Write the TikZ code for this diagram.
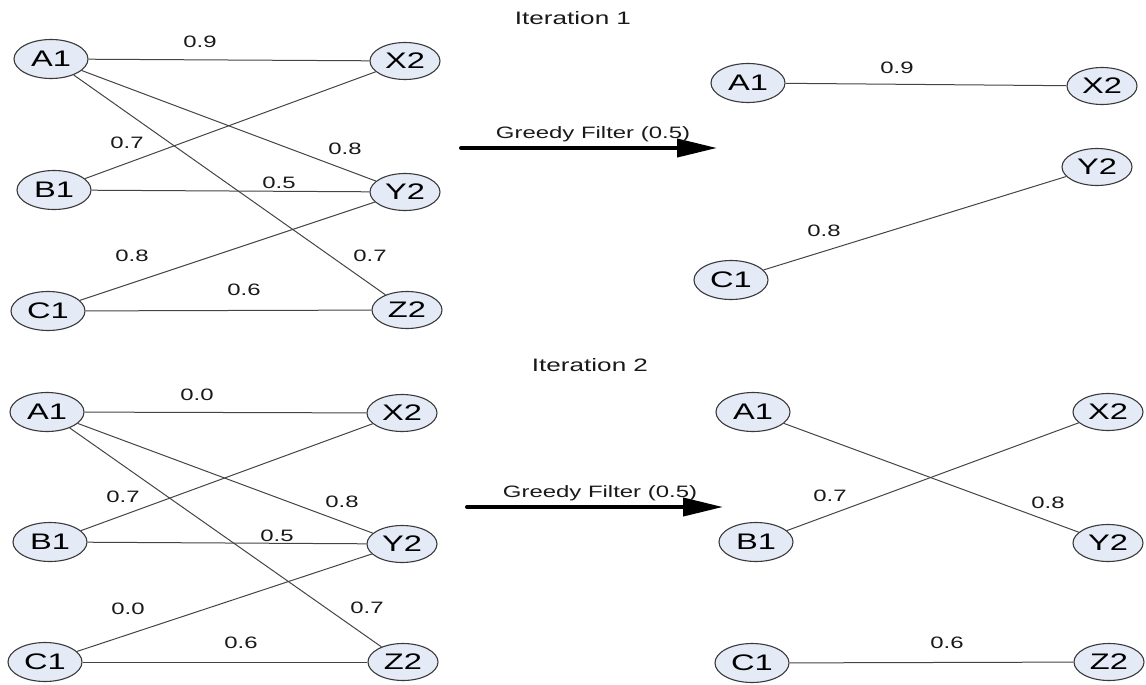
\documentclass[tikz,border=0pt]{standalone}
\usepackage{fontspec}
\setmainfont{Liberation Sans}[FakeStretch=1.45]
\usetikzlibrary{shapes.geometric,arrows.meta}

\definecolor{vfill}{HTML}{E4EAF6}
\definecolor{vline}{HTML}{3A3A3A}
\definecolor{eline}{HTML}{444444}

\tikzstyle{vert} = [ellipse, draw=vline, fill=vfill, line width=1.1pt, inner sep=0pt,
  minimum width=74pt, minimum height=39pt, text=black, font=\fontsize{22.5}{26}\selectfont]
\tikzstyle{vertr} = [vert, minimum width=70pt, minimum height=37pt]
\tikzstyle{lbl} = [text centered, inner sep=0pt, text=black!90, font=\fontsize{16.5}{19}\selectfont]
\tikzstyle{ttl} = [text centered, inner sep=0pt, text=black!90, font=\fontsize{18}{21}\selectfont]
\tikzstyle{edge} = [draw=eline, line width=1pt]
\tikzstyle{filt} = [line width=4pt, line cap=round, -{Triangle[length=40pt,width=18pt]}]

\begin{document}
\begin{tikzpicture}[x=1pt, y=-1pt]
\useasboundingbox (0,0) rectangle (1146,685);

%ITERATION1 input graph
\node[vert]  (a1) at (51,59)   {A1};
\node[vert]  (b1) at (54,190)  {B1};
\node[vert]  (c1) at (48,311)  {C1};
\node[vertr] (x2) at (405,61)  {X2};
\node[vertr] (y2) at (405,192) {Y2};
\node[vertr] (z2) at (407,310) {Z2};
\draw[edge] (a1) -- (x2);
\draw[edge] (a1) -- (y2);
\draw[edge] (a1) -- (z2);
\draw[edge] (b1) -- (x2);
\draw[edge] (b1) -- (y2);
\draw[edge] (c1) -- (y2);
\draw[edge] (c1) -- (z2);
\node[lbl] (w1ax) at (200,42)  {0.9};
\node[lbl] (w1bx) at (127,143) {0.7};
\node[lbl] (w1ay) at (345,149) {0.8};
\node[lbl] (w1by) at (279,183) {0.5};
\node[lbl] (w1cy) at (132,256) {0.8};
\node[lbl] (w1az) at (370,256) {0.7};
\node[lbl] (w1cz) at (244,290) {0.6};

%ITERATION1 filter
\node[ttl] (it1) at (573,18) {Iteration 1};
\coordinate (f1A) at (461,148);
\coordinate (f1B) at (717,148);
\draw[filt] (f1A) -- node[lbl, above=4pt, xshift=4pt] (f1) {Greedy Filter (0.5)} (f1B);

%ITERATION1 result
\node[vert]  (ra1) at (748,83)   {A1};
\node[vert]  (rc1) at (731,280)  {C1};
\node[vertr] (rx2) at (1102,86)  {X2};
\node[vertr] (ry2) at (1097,167) {Y2};
\draw[edge] (ra1) -- (rx2);
\draw[edge] (rc1) -- (ry2);
\node[lbl] (r1ax) at (897,68)  {0.9};
\node[lbl] (r1cy) at (824,231) {0.8};

%ITERATION2 input graph
\node[vert]  (p1) at (47,412)  {A1};
\node[vert]  (q1) at (50,542)  {B1};
\node[vert]  (s1) at (45,662)  {C1};
\node[vertr] (p2) at (402,413) {X2};
\node[vertr] (q2) at (402,544) {Y2};
\node[vertr] (s2) at (403,662) {Z2};
\draw[edge] (p1) -- (p2);
\draw[edge] (p1) -- (q2);
\draw[edge] (p1) -- (s2);
\draw[edge] (q1) -- (p2);
\draw[edge] (q1) -- (q2);
\draw[edge] (s1) -- (q2);
\draw[edge] (s1) -- (s2);
\node[lbl] (w2ax) at (197,395) {0.0};
\node[lbl] (w2bx) at (123,497) {0.7};
\node[lbl] (w2ay) at (342,502) {0.8};
\node[lbl] (w2by) at (277,536) {0.5};
\node[lbl] (w2cy) at (128,609) {0.0};
\node[lbl] (w2az) at (367,608) {0.7};
\node[lbl] (w2cz) at (241,643) {0.6};

%ITERATION2 filter
\node[ttl] (it2) at (590,365) {Iteration 2};
\coordinate (f2A) at (467,507);
\coordinate (f2B) at (723,507);
\draw[filt] (f2A) -- node[lbl, above=4pt, xshift=5pt] (f2) {Greedy Filter (0.5)} (f2B);

%ITERATION2 result
\node[vert]  (rp1) at (753,412)  {A1};
\node[vert]  (rq1) at (756,542)  {B1};
\node[vert]  (rs1) at (752,663)  {C1};
\node[vertr] (rp2) at (1108,412) {X2};
\node[vertr] (rq2) at (1108,543) {Y2};
\node[vertr] (rs2) at (1109,662) {Z2};
\draw[edge] (rp1) -- (rq2);
\draw[edge] (rq1) -- (rp2);
\draw[edge] (rs1) -- (rs2);
\node[lbl] (r2bx) at (830,496)  {0.7};
\node[lbl] (r2ay) at (1048,503) {0.8};
\node[lbl] (r2cz) at (947,643)  {0.6};
\end{tikzpicture}
\end{document}
